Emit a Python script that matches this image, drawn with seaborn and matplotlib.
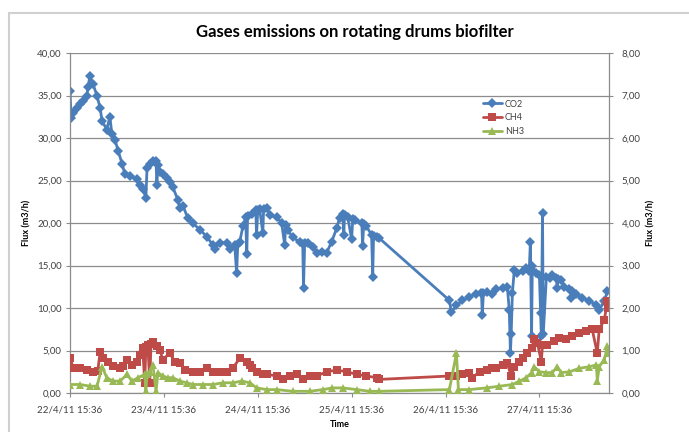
import matplotlib
matplotlib.use("Agg")
import matplotlib.pyplot as plt
import matplotlib.dates as mdates
from matplotlib.patches import Rectangle
from matplotlib.ticker import FuncFormatter, MultipleLocator
import pandas as pd
import seaborn as sns

# hours since 22/4/11 15:36 and flux values (m3/h)
co2_hours = [0.0, 0.3, 0.8, 1.8, 2.6, 3.3, 4.3, 4.6, 5.1, 5.9, 6.9, 7.7, 8.2, 9.4, 10.2, 10.7,
             11.5, 12.3, 13.3, 14.0, 15.3, 17.1, 17.9, 18.6, 19.4, 19.7, 20.4, 21.2, 22.0, 22.2,
             22.5, 23.0, 23.7, 24.8, 25.5, 26.3, 27.6, 28.1, 28.9, 30.1, 31.4, 33.2, 35.0, 36.5,
             37.0, 38.3, 40.1, 40.9, 42.1, 42.6, 42.9, 43.4, 44.2, 44.9, 45.2, 45.4, 46.5, 47.5,
             47.7, 48.0, 48.5, 49.3, 49.5, 50.3, 51.1, 52.9, 54.1, 54.9, 55.1, 55.7, 56.9, 58.7,
             59.5, 59.7, 60.0, 60.8, 62.0, 63.1, 64.3, 65.6, 66.9, 68.2, 68.9, 69.7, 70.0, 70.2,
             71.0, 72.0, 72.3, 72.8, 74.6, 74.8, 75.1, 75.8, 77.1, 77.4, 77.6, 78.4, 79.1,
             97.0, 97.5, 98.8, 100.3, 102.1, 103.9, 105.2, 105.4, 105.7, 106.5, 108.0, 109.0,
             110.6, 111.8, 112.3, 112.6, 112.8, 113.1, 113.6, 114.4, 115.7, 116.7, 117.4, 117.7,
             118.0, 118.2, 119.2, 120.0, 120.3, 120.5, 120.8, 121.0, 121.8, 122.6, 123.3, 124.3,
             124.6, 124.8, 125.6, 126.4, 127.7, 128.2, 128.4, 129.4, 131.0, 132.8, 134.6, 135.3,
             136.6, 137.4]
co2_flux = [35.5, 32.3, 33.0, 33.5, 34.0, 34.3, 35.0, 36.0, 37.3, 36.3, 35.0, 33.5, 32.0, 31.0, 32.5, 30.5,
            29.8, 28.5, 27.0, 25.8, 25.5, 25.2, 24.5, 24.0, 23.0, 26.5, 27.0, 27.3, 27.3, 24.5,
            26.8, 26.0, 25.8, 25.3, 24.8, 24.2, 22.7, 21.8, 22.0, 20.6, 20.0, 19.2, 18.4, 17.4,
            16.9, 17.7, 17.7, 16.9, 17.4, 14.1, 17.5, 17.8, 19.6, 20.7, 16.3, 20.8, 21.1, 21.5,
            18.6, 21.5, 21.6, 18.8, 21.7, 21.8, 20.9, 20.7, 20.0, 17.4, 19.8, 19.2, 18.3, 17.8,
            17.5, 12.4, 17.6, 17.7, 17.2, 16.5, 16.6, 16.5, 17.8, 19.4, 20.6, 21.1, 18.6, 21.0,
            20.7, 18.1, 20.5, 20.4, 20.0, 17.3, 19.9, 19.6, 18.6, 13.7, 18.5, 18.3, 18.2,
            10.9, 9.5, 10.3, 10.9, 11.3, 11.7, 11.8, 9.2, 11.8, 11.9, 11.7, 12.2,
            12.4, 12.5, 9.8, 4.7, 7.0, 11.8, 14.5, 14.1, 14.3, 14.7, 14.3, 17.8,
            6.7, 14.9, 14.1, 13.9, 9.4, 6.7, 21.2, 7.0, 13.7, 13.5, 13.9, 13.5,
            12.4, 13.4, 13.3, 12.5, 12.2, 11.2, 12.0, 11.6, 11.2, 10.8, 10.4, 9.8,
            10.8, 12.0]

ch4_hours = [0.0, 0.8, 2.6, 4.3, 5.9, 7.1, 7.7, 8.4, 9.7, 11.0, 12.8, 13.5, 14.6, 15.8, 17.1, 17.9,
             18.6, 19.1, 19.4, 19.9, 20.4, 20.7, 21.2, 22.2, 23.0, 23.7, 25.5, 26.8, 28.1, 29.4,
             31.4, 33.2, 35.0, 36.5, 38.3, 40.1, 41.6, 43.4, 45.2, 46.0, 46.5, 47.7, 49.3, 50.3,
             52.9, 54.4, 56.2, 58.0, 59.5, 61.3, 63.1, 65.6, 68.2, 70.7, 73.3, 75.8, 78.4, 79.1,
             97.0, 98.8, 100.3, 102.1, 102.9, 104.7, 106.5, 108.0, 109.0, 110.6, 111.8, 112.8,
             113.6, 114.9, 115.7, 116.9, 118.0, 118.7, 119.5, 120.5, 120.8, 122.0, 123.8, 125.1,
             126.9, 128.4, 130.2, 132.0, 133.5, 134.8, 135.3, 136.6, 137.4, 137.6]
ch4_flux = [0.82, 0.60, 0.58, 0.54, 0.50, 0.52, 0.96, 0.82, 0.72, 0.64, 0.60, 0.64, 0.78, 0.66, 0.74, 0.90,
            1.06, 0.24, 1.08, 1.12, 0.24, 1.16, 1.20, 1.10, 1.02, 0.78, 0.94, 0.74, 0.70, 0.54,
            0.50, 0.50, 0.58, 0.50, 0.50, 0.50, 0.58, 0.82, 0.74, 0.66, 0.58, 0.50, 0.44, 0.44,
            0.40, 0.32, 0.40, 0.44, 0.32, 0.40, 0.40, 0.50, 0.54, 0.50, 0.44, 0.40, 0.36, 0.32,
            0.40, 0.40, 0.44, 0.48, 0.36, 0.50, 0.54, 0.60, 0.58, 0.66, 0.70, 0.40,
            0.62, 0.74, 0.82, 0.94, 1.06, 1.26, 1.18, 0.74, 1.14, 1.14, 1.22, 1.30,
            1.26, 1.34, 1.42, 1.46, 1.50, 0.94, 1.50, 1.72, 2.16, 2.00]

nh3_hours = [0.0, 2.6, 5.1, 6.9, 8.2, 9.4, 11.0, 12.8, 14.6, 15.8, 17.4, 19.1, 19.4, 19.7, 20.4, 21.2,
             22.0, 22.5, 23.7, 25.0, 26.3, 28.1, 29.9, 31.4, 34.0, 36.5, 39.1, 41.6, 43.9, 46.0,
             47.7, 50.3, 52.9, 56.9, 61.3, 64.6, 67.1, 69.7, 73.3, 76.6, 79.1, 97.0, 98.8, 99.3,
             102.1, 106.5, 109.8, 113.1, 114.9, 116.7, 118.0, 118.7, 120.0, 121.8, 123.3, 124.6,
             125.6, 127.7, 130.2, 132.8, 134.6, 134.8, 135.3, 136.6, 137.4, 137.6]
nh3_flux = [0.20, 0.20, 0.16, 0.16, 0.62, 0.36, 0.28, 0.28, 0.44, 0.28, 0.36, 0.44, 0.04, 0.44, 0.50, 0.66,
            0.04, 0.48, 0.40, 0.36, 0.36, 0.28, 0.24, 0.20, 0.20, 0.20, 0.24, 0.24, 0.28, 0.24,
            0.12, 0.08, 0.08, 0.04, 0.04, 0.08, 0.12, 0.12, 0.08, 0.04, 0.04, 0.08, 0.94, 0.08,
            0.08, 0.12, 0.16, 0.20, 0.28, 0.36, 0.48, 0.62, 0.50, 0.48, 0.48, 0.62,
            0.48, 0.50, 0.58, 0.62, 0.66, 0.28, 0.62, 0.78, 1.10, 0.94]

start = pd.Timestamp("2011-04-22 15:36")
co2 = pd.DataFrame({"time": start + pd.to_timedelta(co2_hours, unit="h"), "flux": co2_flux})
ch4 = pd.DataFrame({"time": start + pd.to_timedelta(ch4_hours, unit="h"), "flux": ch4_flux})
nh3 = pd.DataFrame({"time": start + pd.to_timedelta(nh3_hours, unit="h"), "flux": nh3_flux})

sns.set_style("white")
plt.rcParams["font.family"] = ["Lato", "DejaVu Sans"]

BLUE, RED, GREEN = "#4A7EBB", "#BE4B48", "#98B954"
GRID = "#8C8C8C"
TXT = "#404040"

fig = plt.figure(figsize=(6.89, 4.32), dpi=100)
fig.patches.append(Rectangle((9 / 689, -0.05), 1.0, 1.05 - 13 / 432, transform=fig.transFigure,
                             fill=False, edgecolor="#D0D0D0", linewidth=1.5))

ax = fig.add_axes([70 / 689, 39 / 432, 539 / 689, 340 / 432])
ax2 = ax.twinx()

sns.lineplot(data=co2, x="time", y="flux", ax=ax, color=BLUE, marker="D", markersize=5.5,
             markeredgewidth=0, linewidth=2.0, estimator=None, sort=False, label="CO2", legend=False)
sns.lineplot(data=ch4, x="time", y="flux", ax=ax2, color=RED, marker="s", markersize=5.5,
             markeredgewidth=0, linewidth=2.0, estimator=None, sort=False, label="CH4", legend=False)
sns.lineplot(data=nh3, x="time", y="flux", ax=ax2, color=GREEN, marker="^", markersize=6,
             markeredgewidth=0, linewidth=2.0, estimator=None, sort=False, label="NH3", legend=False)

ax.set_ylim(0, 40)
ax2.set_ylim(0, 8)
ax.yaxis.set_major_locator(MultipleLocator(5))
ax2.yaxis.set_major_locator(MultipleLocator(1))
comma = FuncFormatter(lambda v, p: f"{v:.2f}".replace(".", ","))
ax.yaxis.set_major_formatter(comma)
ax2.yaxis.set_major_formatter(comma)

ax.set_xlim(start, start + pd.Timedelta(hours=137.8))
ax.set_xticks([start + pd.Timedelta(days=d) for d in range(6)])
ax.xaxis.set_major_formatter(FuncFormatter(
    lambda v, p: (lambda d: f"{d.day}/{d.month}/{d.strftime('%y %H:%M')}")(mdates.num2date(v))))

ax.grid(axis="y", color=GRID, linewidth=0.9)
ax.grid(axis="x", visible=False)
ax2.grid(False)

for a in (ax, ax2):
    for s in a.spines.values():
        s.set_color(GRID)
        s.set_linewidth(0.9)
    a.spines["top"].set_visible(False)
    a.tick_params(colors=TXT, labelsize=7, length=3, width=0.8, color=GRID, direction="out")
ax.spines["right"].set_visible(False)
ax2.spines["left"].set_visible(False)
ax2.spines["bottom"].set_visible(False)
ax.tick_params(axis="y", left=True, pad=3)
ax.tick_params(axis="x", bottom=True, pad=6)
ax2.tick_params(axis="y", right=True, pad=6)

ax.set_xlabel("Time", fontsize=6.5, fontweight="bold", color="black", labelpad=4)
ax.set_ylabel("Flux (m3/h)", fontsize=6.5, fontweight="bold", color="black", labelpad=4)
ax2.set_ylabel("Flux (m3/h)", fontsize=6.5, fontweight="bold", color="black", labelpad=4,
               rotation=90)

fig.text(355 / 689, 1 - 32 / 432, "Gases emissions on rotating drums biofilter",
         ha="center", va="center", fontsize=12, fontweight="bold", color="black")

handles = ax.get_lines()[:1] + ax2.get_lines()[:2]
fig.legend(handles, ["CO2", "CH4", "NH3"], loc="upper left",
           bbox_to_anchor=(478 / 689, 1 - 95 / 432), frameon=False, fontsize=6.5,
           handlelength=2.2, labelspacing=0.55, handletextpad=0.3, borderpad=0, labelcolor=TXT)

fig.savefig("out.png", dpi=100)
